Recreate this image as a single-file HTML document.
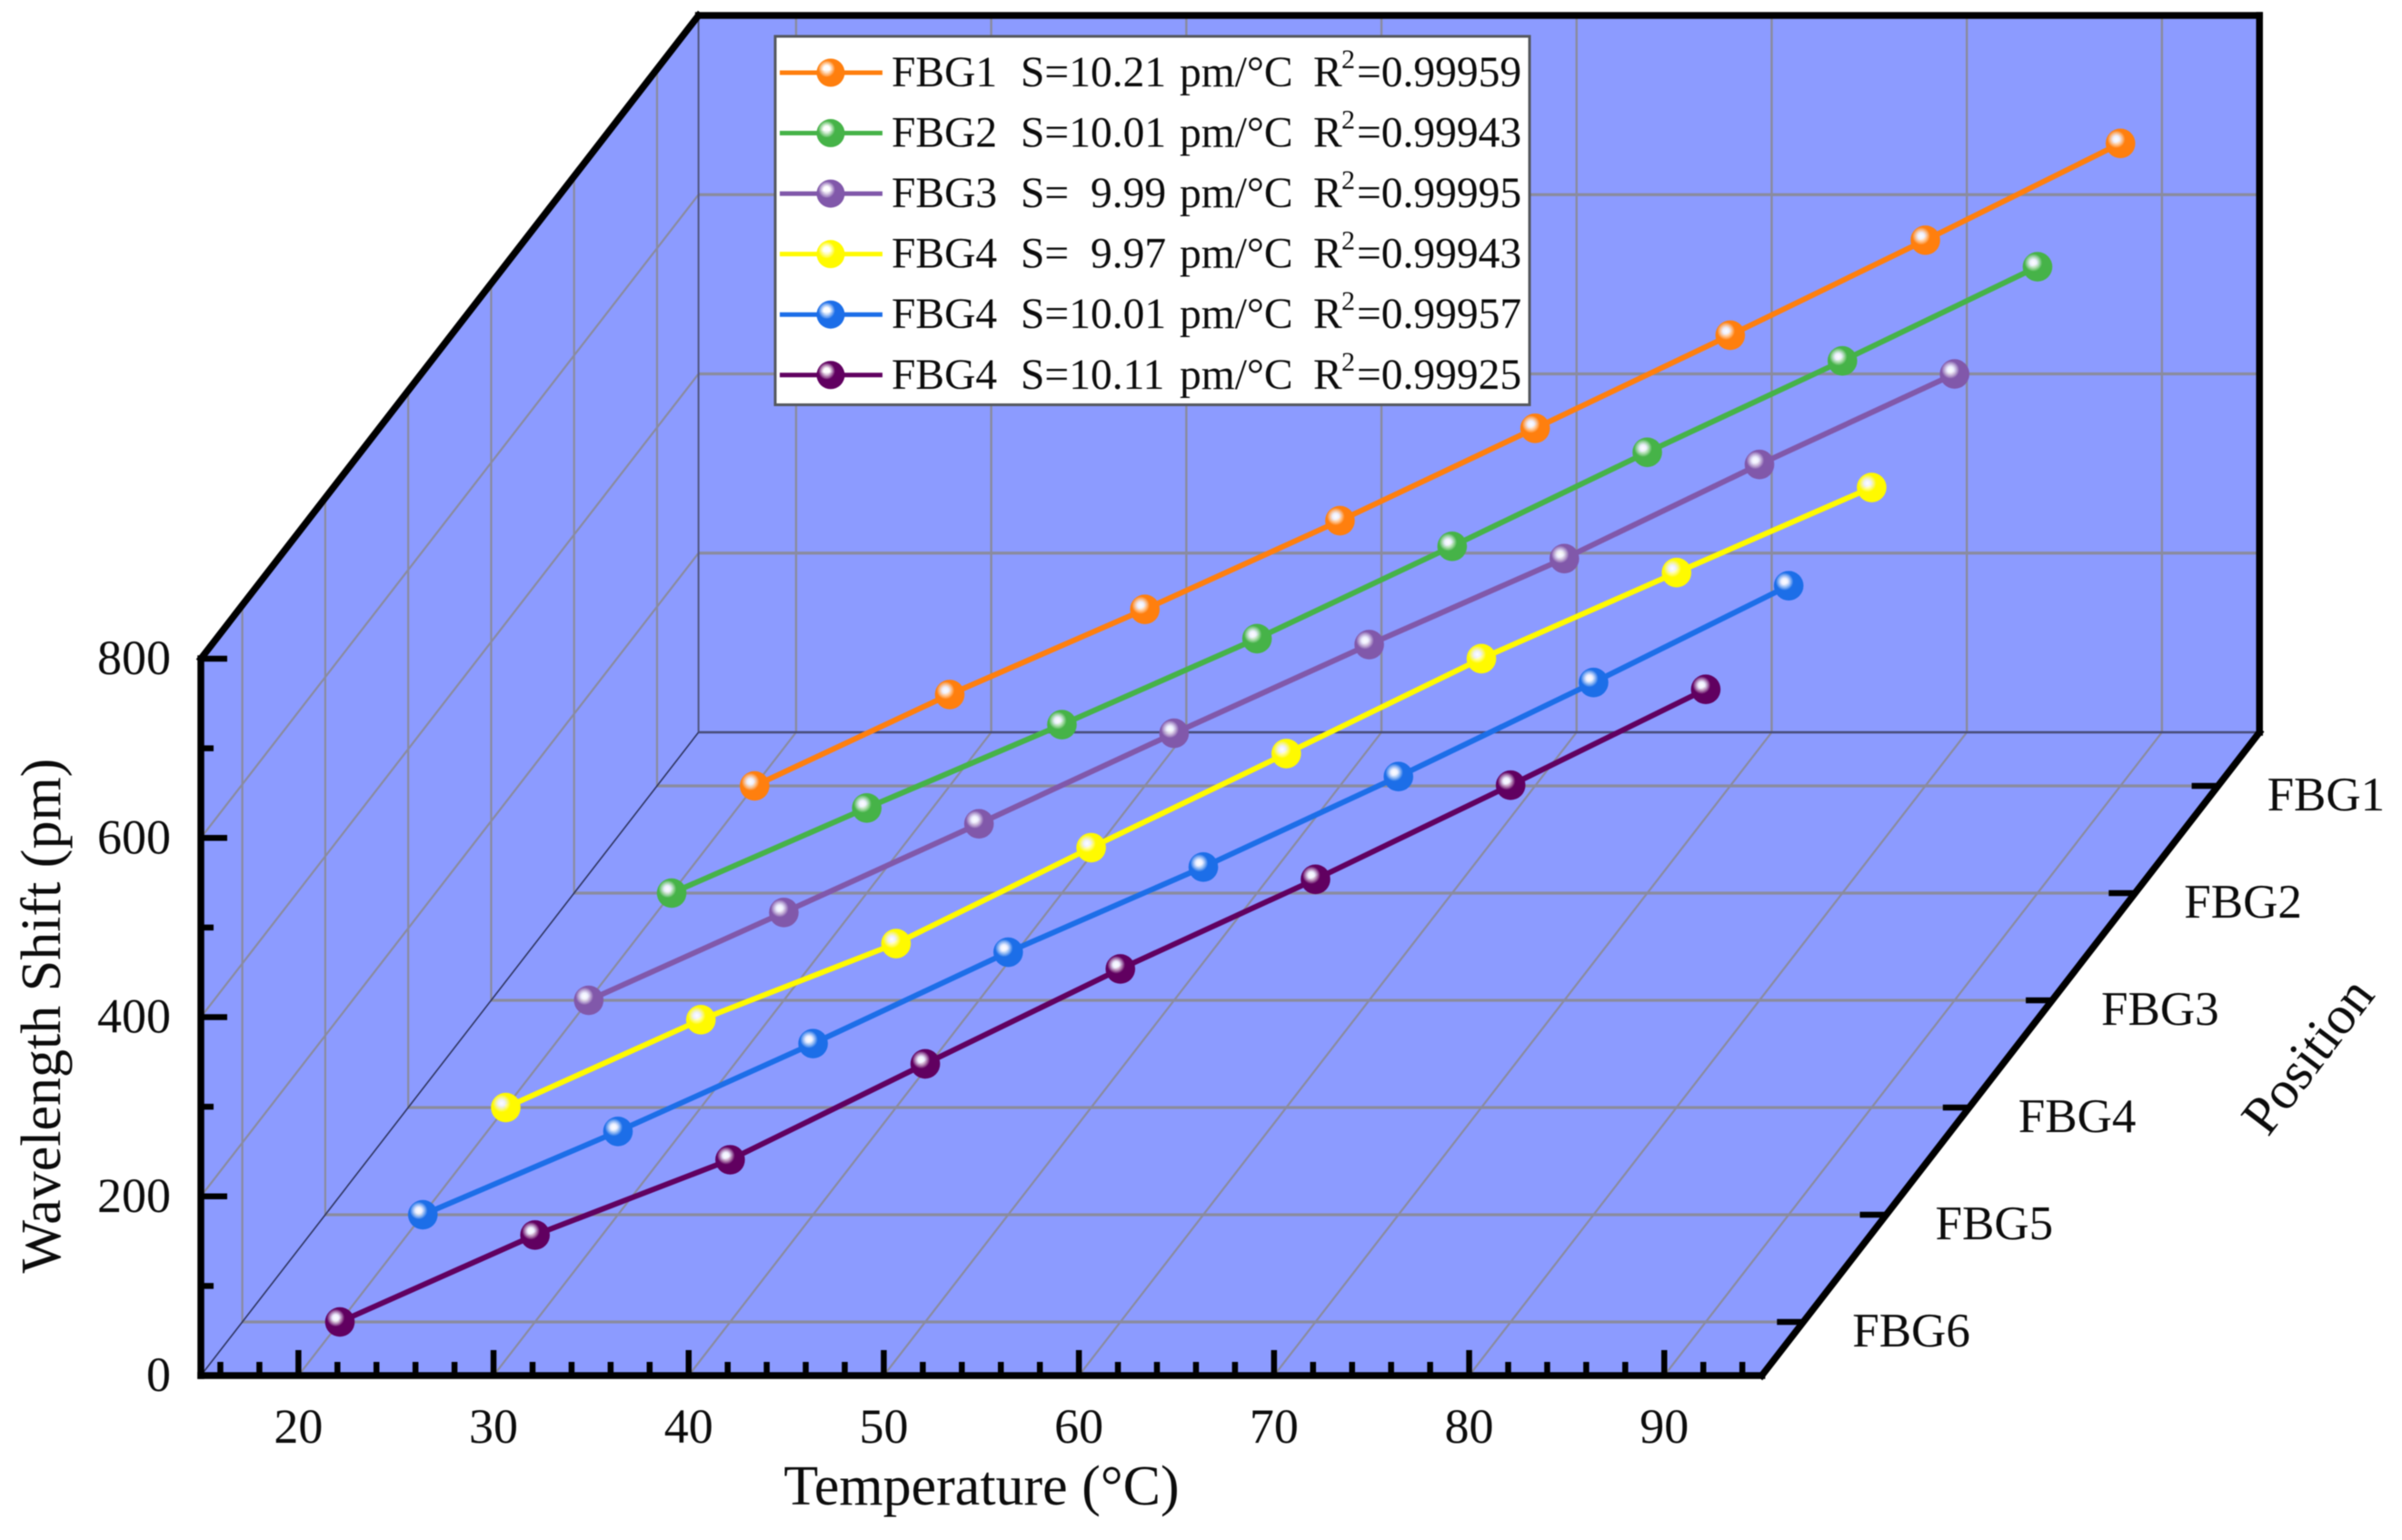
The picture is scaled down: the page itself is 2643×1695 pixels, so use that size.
<!DOCTYPE html>
<html lang="en">
<head>
<meta charset="utf-8">
<title>Wavelength shift vs temperature for FBG1-FBG6</title>
<style>
html,body{margin:0;padding:0;background:#fff;}
svg{display:block;filter:blur(0.6px);}
text{font-family:"Liberation Serif",serif;fill:#0c0c0c;white-space:pre;}
</style>
</head>
<body>
<svg id="chart" xmlns="http://www.w3.org/2000/svg" width="2643" height="1695" viewBox="0 0 2643 1695">
<defs id="defs"></defs>
<g id="walls"></g>
<g id="grid"></g>
<g id="frame"></g>
<g id="series"></g>
<g id="labels">
<text x="1080" y="1656" font-size="62" text-anchor="middle">Temperature (°C)</text>
<text transform="translate(66,1118) rotate(-90)" font-size="62" text-anchor="middle">Wavelength Shift (pm)</text>
<text transform="translate(2555,1174) rotate(-52.8)" font-size="60" text-anchor="middle">Position</text>
</g>
<g id="legend"></g>
</svg>
<script>
const temperatures = [20, 30, 40, 50, 60, 70, 80, 90];
const fbg1Values = [0, 102, 197, 296, 399, 503, 609, 717];
const fbg2Values = [0, 95, 188, 284, 387, 492, 594, 699];
const fbg3Values = [0, 98, 197, 298, 397, 493, 598, 699];
const fbg4Values = [0, 98, 183, 290, 395, 501, 597, 692];
const fbg5Values = [0, 93, 191, 293, 388, 489, 594, 702];
const fbg6Values = [0, 97, 181, 288, 394, 494, 599, 706];
const seriesNames = ['FBG1', 'FBG2', 'FBG3', 'FBG4', 'FBG5', 'FBG6'];
const positionLabels = ['FBG6', 'FBG5', 'FBG4', 'FBG3', 'FBG2', 'FBG1'];
const legendNames = ['FBG1', 'FBG2', 'FBG3', 'FBG4', 'FBG4', 'FBG4'];
const legendSlopes = ['S=10.21', 'S=10.01', 'S=  9.99', 'S=  9.97', 'S=10.01', 'S=10.11'];
const legendR2 = ['=0.99959', '=0.99943', '=0.99995', '=0.99943', '=0.99957', '=0.99925'];
const seriesColors = ['#FF7F0E', '#46B348', '#8158AA', '#FFFA00', '#1C6EE8', '#610060'];
const xTickValues = [20, 30, 40, 50, 60, 70, 80, 90];
const yTickValues = [0, 200, 400, 600, 800];

const allSeries = [fbg1Values, fbg2Values, fbg3Values, fbg4Values, fbg5Values, fbg6Values];

const NS = 'http://www.w3.org/2000/svg';
const X0 = 221, Y0 = 1514, DX = 547.6, DY = 708;
const PER_DEG = 21.47, PER_PM = 0.98625;
const FILL = '#8C9BFF', GRID = '#8A8B9E';

function xAxis(t) { return X0 + (t - 15) * PER_DEG; }
function yAxis(v) { return v * PER_PM; }
function depthOf(posIndex) { return (posIndex + 0.5) / positionLabels.length; }
function px(t, d) { return xAxis(t) + DX * d; }
function py(v, d) { return Y0 - DY * d - yAxis(v); }

function mk(tag, attrs, parent) {
  const n = document.createElementNS(NS, tag);
  for (const k in attrs) n.setAttribute(k, attrs[k]);
  if (parent) parent.appendChild(n);
  return n;
}
function seg(x1, y1, x2, y2, stroke, w, parent, cap) {
  return mk('line', { x1, y1, x2, y2, stroke, 'stroke-width': w, 'stroke-linecap': cap || 'butt' }, parent);
}

const defs = document.getElementById('defs');
const walls = document.getElementById('walls');
const grid = document.getElementById('grid');
const frame = document.getElementById('frame');
const seriesG = document.getElementById('series');
const labels = document.getElementById('labels');
const legend = document.getElementById('legend');

/* marker gradients */
seriesColors.forEach(function (c, i) {
  const g = mk('radialGradient', { id: 'ball' + i, cx: '0.36', cy: '0.36', r: '0.3' }, defs);
  mk('stop', { offset: '0', 'stop-color': '#ffffff' }, g);
  mk('stop', { offset: '0.35', 'stop-color': '#ffffff', 'stop-opacity': '0.85' }, g);
  mk('stop', { offset: '1', 'stop-color': c }, g);
});

/* walls */
const plotFill = mk('polygon', {
  points: [
    [X0, Y0], [X0, Y0 - yAxis(800)], [X0 + DX, Y0 - DY - yAxis(800)],
    [xAxis(95) + DX, Y0 - DY - yAxis(800)], [xAxis(95) + DX, Y0 - DY], [xAxis(95), Y0]
  ].map(p => p.join(',')).join(' '),
  fill: FILL
}, walls);



/* back wall + floor grid along temperature */
xTickValues.forEach(function (t) {
  const v = seg(px(t, 1), py(0, 1), px(t, 1), py(800, 1), GRID, 2.4, grid);
  
  
  const f = seg(px(t, 0), py(0, 0), px(t, 1), py(0, 1), GRID, 2.2, grid);
  
  
});
/* wavelength gridlines */
yTickValues.slice(1, -1).forEach(function (v) {
  const b = seg(px(15, 1), py(v, 1), px(95, 1), py(v, 1), GRID, 3.2, grid);
  
  
  const l = seg(px(15, 0), py(v, 0), px(15, 1), py(v, 1), GRID, 2.2, grid);
  
  
});
/* position gridlines */
positionLabels.forEach(function (name, i) {
  const d = depthOf(i);
  const fl = seg(px(15, d), py(0, d), px(95, d), py(0, d), GRID, 3.2, grid);
  
  
  const sw = seg(px(15, d), py(0, d), px(15, d), py(800, d), GRID, 2.2, grid);
  
  
});
/* inner edges */
const e1 = seg(px(15, 0), py(0, 0), px(15, 1), py(0, 1), '#2F3560', 1.6, grid);


const e2 = seg(px(15, 1), py(0, 1), px(15, 1), py(800, 1), '#50557F', 2, grid);


const e3 = seg(px(15, 1), py(0, 1), px(95, 1), py(0, 1), '#474C78', 2.6, grid);



/* thick frame */
const AW = 7.5;
const yLine = seg(px(15, 0), py(0, 0), px(15, 0), py(800, 0), '#000', AW, frame, 'square');


const xLine = seg(px(15, 0), py(0, 0), px(95, 0), py(0, 0), '#000', AW, frame, 'square');


const topL = seg(px(15, 0), py(800, 0), px(15, 1), py(800, 1), '#000', AW, frame, 'square');


const topB = seg(px(15, 1), py(800, 1), px(95, 1), py(800, 1), '#000', AW, frame, 'square');


const rightB = seg(px(95, 1), py(800, 1), px(95, 1), py(0, 1), '#000', AW, frame, 'square');


const zLine = seg(px(95, 0), py(0, 0), px(95, 1), py(0, 1), '#000', AW, frame, 'square');



/* x ticks */
for (let t = 16; t <= 94; t += 2) {
  const major = t % 10 === 0;
  const tick = seg(xAxis(t), Y0, xAxis(t), Y0 - (major ? 28 : 15), '#000', 6.5, frame);
  
  
}
xTickValues.forEach(function (t) {
  const lab = mk('text', { x: xAxis(t), y: 1588, 'font-size': 54, 'text-anchor': 'middle' }, labels);
  lab.textContent = String(t);
  
  
});

/* y ticks */
for (let v = 100; v <= 800; v += 100) {
  const major = v % 200 === 0;
  const y = Y0 - yAxis(v);
  const tick = seg(X0, y, X0 + (major ? 29 : 14), y, '#000', 6.5, frame);
  
  
}
yTickValues.forEach(function (v) {
  const lab = mk('text', { x: 188, y: Y0 - yAxis(v) + 17, 'font-size': 54, 'text-anchor': 'end' }, labels);
  lab.textContent = String(v);
  
  
});

/* position ticks + labels */
positionLabels.forEach(function (name, i) {
  const d = depthOf(i);
  const xe = px(95, d), ye = py(0, d);
  const tick = seg(xe - 29, ye, xe, ye, '#000', 6.5, frame);
  
  
  const lab = mk('text', { x: xe + 54, y: ye + 27, 'font-size': 53 }, labels);
  lab.textContent = name;
  
  
});

/* data series */
const BALL_R = 16.3;
allSeries.forEach(function (vals, si) {
  const posIndex = positionLabels.indexOf(seriesNames[si]);
  const d = depthOf(posIndex);
  const g = mk('g', {}, seriesG);
  
  
  const line = mk('polyline', {
    points: vals.map((v, i) => px(temperatures[i], d) + ',' + py(v, d)).join(' '),
    fill: 'none', stroke: seriesColors[si], 'stroke-width': 6, 'stroke-linejoin': 'round'
  }, g);
  
  
  vals.forEach(function (v, i) {
    const c = mk('circle', {
      cx: px(temperatures[i], d), cy: py(v, d), r: BALL_R, fill: 'url(#ball' + si + ')'
    }, g);
    
    
  });
});

/* legend */
const box = mk('rect', {
  x: 853, y: 40, width: 830, height: 405.5, fill: '#fff', stroke: '#55585F', 'stroke-width': 3
}, legend);


legendNames.forEach(function (name, i) {
  const y = 80 + i * 66.55;
  const g = mk('g', {}, legend);
  
  
  const l = seg(858, y, 971, y, seriesColors[i], 5, g);
  
  
  const c = mk('circle', { cx: 914, cy: y, r: 15.5, fill: 'url(#ball' + i + ')' }, g);
  
  
  const base = y + 15;
  const t1 = mk('text', { x: 981, y: base, 'font-size': 47.5 }, g);
  t1.textContent = name;
  
  
  const t2 = mk('text', { x: 1123, y: base, 'font-size': 47.5 }, g);
  t2.textContent = legendSlopes[i];
  
  
  const t3 = mk('text', { x: 1298, y: base, 'font-size': 47.5 }, g);
  t3.textContent = 'pm/°C';
  
  
  const t4 = mk('text', { x: 1445, y: base, 'font-size': 47.5 }, g);
  t4.textContent = 'R';
  
  
  const t5 = mk('text', { x: 1476, y: base - 20, 'font-size': 30 }, g);
  t5.textContent = '2';
  
  
  const t6 = mk('text', { x: 1493, y: base, 'font-size': 47.5 }, g);
  t6.textContent = legendR2[i];
  
  
});
</script>
</body>
</html>
